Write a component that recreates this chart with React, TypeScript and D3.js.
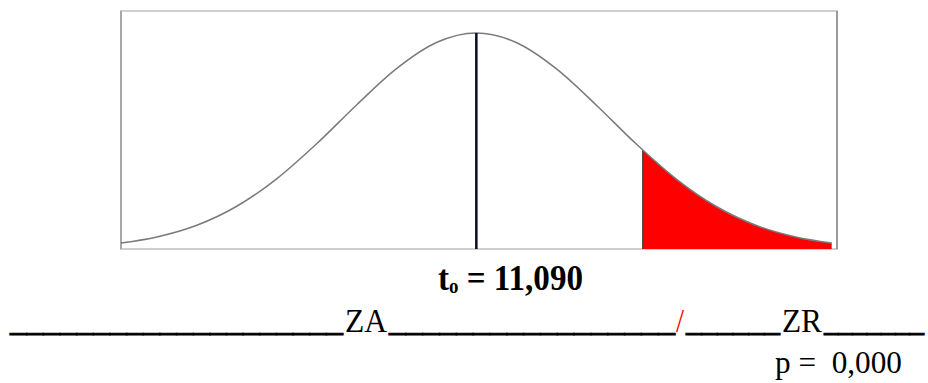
import React from "react";
import * as d3 from "d3";

// curve (x in sd units, height relative to the peak)
const curveZ = [-2.67, -2.4, -2.1, -1.8, -1.5, -1.2, -0.9, -0.6, -0.3, 0, 0.3, 0.6, 0.9, 1.2, 1.5, 1.8, 2.1, 2.4, 2.67];
const curveH = [0.028, 0.056, 0.11, 0.198, 0.325, 0.487, 0.667, 0.835, 0.956, 1, 0.956, 0.835, 0.667, 0.487, 0.325, 0.198, 0.11, 0.056, 0.028];

// rejection region (red)
const tailZ = [1.25, 1.5, 1.8, 2.1, 2.4, 2.67];
const tailH = [0.458, 0.325, 0.198, 0.11, 0.056, 0.028];

const centerZ = 0;
const statLabel = "11,090";
const pLabel = "p =  0,000";

const width = 928;
const height = 383;
const box = { left: 121, right: 837, top: 11, bottom: 249 };
const font = "'Liberation Serif', 'Times New Roman', serif";

const App = () => {
  const xScale = d3.scaleLinear().domain([-2.67, 2.71]).range([box.left, box.right]);
  const yScale = d3.scaleLinear().domain([0, 1]).range([box.bottom, 33]);

  const curve = curveZ.map((z, i) => [z, curveH[i]] as [number, number]);
  const tail = tailZ.map((z, i) => [z, tailH[i]] as [number, number]);

  const line = d3
    .line<[number, number]>()
    .x((d) => xScale(d[0]))
    .y((d) => yScale(d[1]))
    .curve(d3.curveMonotoneX);

  const area = d3
    .area<[number, number]>()
    .x((d) => xScale(d[0]))
    .y0(yScale(0))
    .y1((d) => yScale(d[1]))
    .curve(d3.curveMonotoneX);

  const peak = curveH[curveZ.indexOf(centerZ)];
  const us = { stroke: "#000", strokeWidth: 0.9 };

  return (
    <div style={{ position: "fixed", left: 0, top: 0 }}>
      <svg width={width} height={height} style={{ display: "block", background: "#fff" }}>
        <rect
          x={box.left}
          y={box.top}
          width={box.right - box.left}
          height={box.bottom - box.top}
          fill="#fff"
          stroke="#cfcfcf"
          strokeWidth={2}
        />
        <line x1={box.left} x2={box.left} y1={box.top} y2={box.bottom} stroke="#9a9a9a" strokeWidth={1.5} />
        <line x1={box.right} x2={box.right} y1={box.top} y2={box.bottom} stroke="#8a8a8a" strokeWidth={1.5} />

        <path d={area(tail) ?? ""} fill="#ff0000" />
        <line
          x1={xScale(tailZ[0])}
          x2={xScale(tailZ[0])}
          y1={yScale(0)}
          y2={yScale(tailH[0])}
          stroke="#333"
          strokeWidth={1}
        />
        <path d={line(curve) ?? ""} fill="none" stroke="#7a7a7a" strokeWidth={1.5} />
        <line
          x1={xScale(centerZ)}
          x2={xScale(centerZ)}
          y1={yScale(0)}
          y2={yScale(peak)}
          stroke="#0a0a28"
          strokeWidth={2.5}
        />

        <text
          x={438}
          y={290}
          fontFamily={font}
          fontWeight="bold"
          fontSize={35}
          fill="#000"
          textLength={145}
          lengthAdjust="spacingAndGlyphs"
        >
          t
          <tspan fontSize={20} dy={3}>o</tspan>
          <tspan dy={-3}>{" = " + statLabel}</tspan>
        </text>

        <g fontFamily={font} fontSize={34} fill="#000">
          <text x={10} y={331} textLength={333} lengthAdjust="spacingAndGlyphs" {...us}>{"_".repeat(20)}</text>
          <text x={345} y={332} textLength={42} lengthAdjust="spacingAndGlyphs">ZA</text>
          <text x={389} y={331} textLength={286} lengthAdjust="spacingAndGlyphs" {...us}>{"_".repeat(17)}</text>
          <text x={676} y={332} fill="#ff0000" textLength={8} lengthAdjust="spacingAndGlyphs">/</text>
          <text x={686} y={331} textLength={94} lengthAdjust="spacingAndGlyphs" {...us}>{"_".repeat(6)}</text>
          <text x={782} y={332} textLength={40} lengthAdjust="spacingAndGlyphs">ZR</text>
          <text x={824} y={331} textLength={100} lengthAdjust="spacingAndGlyphs" {...us}>{"_".repeat(7)}</text>
          <text x={775} y={373} fontSize={31} textLength={127} lengthAdjust="spacingAndGlyphs" xmlSpace="preserve">
            {pLabel}
          </text>
        </g>
      </svg>
    </div>
  );
};

export default App;
